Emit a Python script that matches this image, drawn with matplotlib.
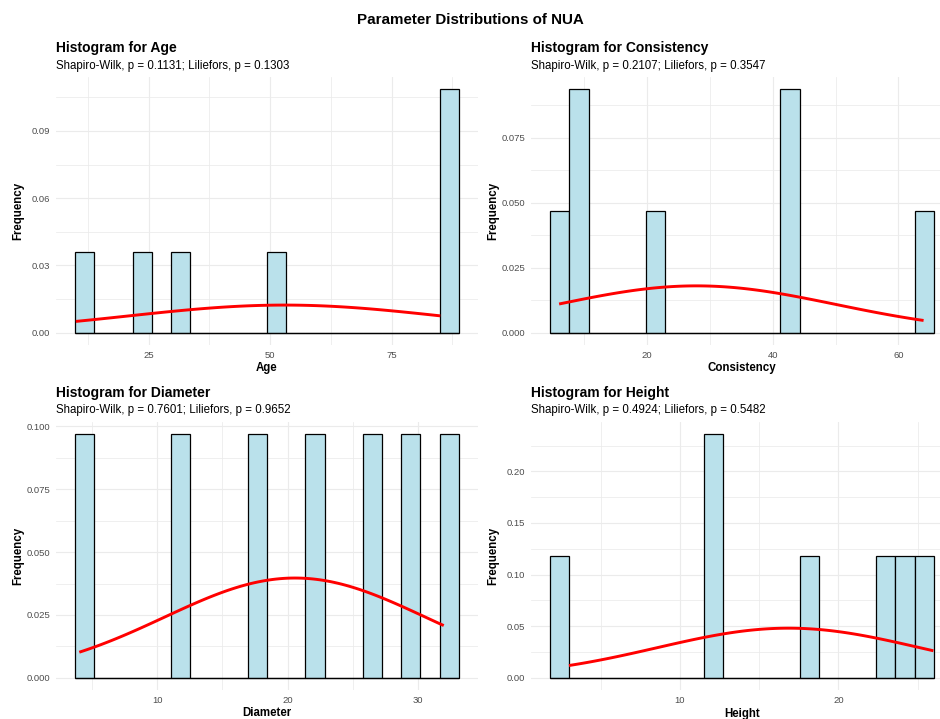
import numpy as np
import matplotlib
matplotlib.use("Agg")
import matplotlib.pyplot as plt
from matplotlib.ticker import AutoMinorLocator

# ---- data -------------------------------------------------------------
variables = ["Age", "Consistency", "Diameter", "Height"]
age = [10, 24, 31, 51, 85, 85, 85]
consistency = [6, 9, 10, 21, 42, 43, 64]
diameter = [4, 12, 18, 22, 26, 30, 32]
height = [3, 12, 12, 18, 23, 24, 26]
samples = [age, consistency, diameter, height]

shapiro_p = [0.1131, 0.2107, 0.7601, 0.4924]
lilliefors_p = [0.1303, 0.3547, 0.9652, 0.5482]

x_ticks = [[25, 50, 75], [20, 40, 60], [10, 20, 30], [10, 20]]
y_ticks = [[0, 0.03, 0.06, 0.09],
           [0, 0.025, 0.05, 0.075],
           [0, 0.025, 0.05, 0.075, 0.1],
           [0, 0.05, 0.10, 0.15, 0.20]]
y_tick_labels = [["0.00", "0.03", "0.06", "0.09"],
                 ["0.000", "0.025", "0.050", "0.075"],
                 ["0.000", "0.025", "0.050", "0.075", "0.100"],
                 ["0.00", "0.05", "0.10", "0.15", "0.20"]]
n_bins = 20

# ---- style ------------------------------------------------------------
FONT = "Liberation Sans"
plt.rcParams["font.family"] = [FONT, "DejaVu Sans"]
BAR_FILL = "#BAE1EB"
GRID = "#EBEBEB"
TICK_COL = "#4D4D4D"

W, H, DPI = 940, 719, 100
fig = plt.figure(figsize=(W / DPI, H / DPI), dpi=DPI)


def fx(x):
    return x / W


def fy(y):
    return 1 - y / H


def bin_edges(values, bins):
    """Bins of equal width whose centres sit on multiples of the width."""
    lo, hi = min(values), max(values)
    width = (hi - lo) / (bins - 1)
    boundary = width / 2
    shift = np.floor((lo - boundary) / width)
    origin = boundary + shift * width
    max_x = hi + (1 - 1e-8) * width
    edges = np.arange(origin, max_x + 1e-12, width)
    return edges, width


def right_closed_counts(values, edges):
    v = np.asarray(values, float)
    fuzz = 1e-8 * np.median(np.diff(edges))
    adj = edges + np.r_[-fuzz, np.full(len(edges) - 1, fuzz)]
    idx = np.searchsorted(adj, v, side="left") - 1
    return np.bincount(idx, minlength=len(edges) - 1)[: len(edges) - 1]


col_left = [56, 531]
row_top = [77, 422]
panel_w, panel_h = 422, 268

for i, (name, vals) in enumerate(zip(variables, samples)):
    r, c = divmod(i, 2)
    left, top = col_left[c], row_top[r]
    ax = fig.add_axes([fx(left), fy(top + panel_h), panel_w / W, panel_h / H])

    edges, width = bin_edges(vals, n_bins)
    counts = right_closed_counts(vals, edges)
    density = counts / (len(vals) * width)

    ax.bar(edges[:-1], density, width=width, align="edge",
           color=BAR_FILL, edgecolor="black", linewidth=0.9, zorder=2)
    # outline of the empty bins along zero
    ax.hlines(0, edges[0], edges[-1], color="black", linewidth=0.9, zorder=2)

    mu, sd = np.mean(vals), np.std(vals, ddof=1)
    xs = np.linspace(min(vals), max(vals), 101)
    ys = np.exp(-0.5 * ((xs - mu) / sd) ** 2) / (sd * np.sqrt(2 * np.pi))
    ax.plot(xs, ys, color="red", linewidth=2.1, zorder=3,
            solid_capstyle="butt")

    ax.use_sticky_edges = False
    ax.margins(x=0.05, y=0.05)

    ax.set_xticks(x_ticks[i])
    ax.set_xticklabels([str(t) for t in x_ticks[i]])
    ax.set_yticks(y_ticks[i])
    ax.set_yticklabels(y_tick_labels[i])
    ax.xaxis.set_minor_locator(AutoMinorLocator(2))
    ax.yaxis.set_minor_locator(AutoMinorLocator(2))
    ax.grid(which="major", color=GRID, linewidth=0.85, zorder=0)
    ax.grid(which="minor", color=GRID, linewidth=0.55, zorder=0)
    ax.set_axisbelow(True)
    ax.tick_params(which="both", length=0)
    ax.tick_params(axis="x", pad=4.5, labelsize=6.8, labelcolor=TICK_COL)
    ax.tick_params(axis="y", pad=4.3, labelsize=6.8, labelcolor=TICK_COL)
    for s in ax.spines.values():
        s.set_visible(False)

    # titles
    fig.text(fx(left), fy(top - 25.3), f"Histogram for {name}",
             fontsize=10, fontweight="bold", va="baseline", ha="left")
    fig.text(fx(left), fy(top - 8.5),
             f"Shapiro-Wilk, p = {shapiro_p[i]:.4f}; Liliefors, p = {lilliefors_p[i]:.4f}",
             fontsize=8.3, va="baseline", ha="left")
    # axis titles
    fig.text(fx(left + panel_w / 2), fy(top + panel_h + 23.5), name,
             fontsize=8.3, fontweight="bold", ha="center", va="center")
    fig.text(fx(left - 38), fy(top + panel_h / 2), "Frequency",
             fontsize=8.3, fontweight="bold", ha="center", va="center",
             rotation=90)

fig.text(0.5, fy(23.5), "Parameter Distributions of NUA",
         fontsize=10.9, fontweight="bold", ha="center", va="baseline")

fig.savefig("out.png", dpi=DPI, facecolor="white")
